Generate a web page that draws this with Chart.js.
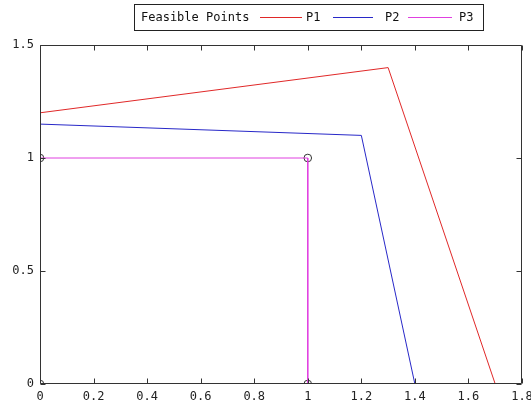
<!DOCTYPE html>
<html>
<head>
<meta charset="utf-8">
<script src="https://cdn.jsdelivr.net/npm/chart.js@4.4.1/dist/chart.umd.min.js"></script>
<style>
  html, body { margin: 0; padding: 0; background: #fff; }
  #wrap { width: 531px; height: 407px; position: relative; }
</style>
</head>
<body>
<div id="wrap"><canvas id="c" width="531" height="407"></canvas></div>
<script>
// ---- data ----
const seriesNames = ['Feasible Points', 'P1', 'P2', 'P3'];
const feasibleX = [0, 0, 1, 1];
const feasibleY = [0, 1, 1, 0];
const p1X = [0, 1.3, 1.7];
const p1Y = [1.2, 1.4, 0];
const p2X = [0, 1.2, 1.4];
const p2Y = [1.15, 1.1, 0];
const p3X = [0, 1, 1];
const p3Y = [1, 1, 0];
const xTicks = [0, 0.2, 0.4, 0.6, 0.8, 1, 1.2, 1.4, 1.6, 1.8];
const yTicks = [0, 0.5, 1, 1.5];

const colors = { pts: '#333333', p1: '#e02828', p2: '#2828c8', p3: '#e040e0' };
const toXY = (xs, ys) => xs.map((x, i) => ({ x: x, y: ys[i] }));
const fmt = v => String(+v.toFixed(2));
const FONT = '"DejaVu Sans Mono", "Liberation Mono", monospace';

const frameAndTicks = {
  id: 'frameAndTicks',
  afterDraw(chart) {
    const { ctx, chartArea: a, scales } = chart;
    ctx.save();
    ctx.strokeStyle = '#333';
    ctx.lineWidth = 1;
    ctx.beginPath();
    const L = Math.round(a.left) + 0.5, R = Math.round(a.right) - 0.5;
    const T = Math.round(a.top) + 0.5, B = Math.round(a.bottom) - 0.5;
    ctx.moveTo(L, T); ctx.lineTo(R, T); ctx.lineTo(R, B); ctx.lineTo(L, B); ctx.closePath();
    const tl = 5;
    xTicks.forEach(v => {
      const px = Math.round(scales.x.getPixelForValue(v)) + 0.5;
      ctx.moveTo(px, B); ctx.lineTo(px, B - tl);
      ctx.moveTo(px, T); ctx.lineTo(px, T + tl);
    });
    yTicks.forEach(v => {
      const py = Math.round(scales.y.getPixelForValue(v)) + 0.5;
      ctx.moveTo(L, py); ctx.lineTo(L + tl, py);
      ctx.moveTo(R, py); ctx.lineTo(R - tl, py);
    });
    ctx.stroke();
    ctx.restore();
  }
};

const boxLegend = {
  id: 'boxLegend',
  afterDraw(chart) {
    const ctx = chart.ctx;
    ctx.save();
    ctx.fillStyle = '#fff';
    ctx.fillRect(134, 4, 349, 26);
    ctx.strokeStyle = '#222';
    ctx.lineWidth = 1;
    ctx.strokeRect(134.5, 4.5, 349, 26);
    const cy = 17.5;
    ctx.font = '12px ' + FONT;
    ctx.textBaseline = 'middle';
    ctx.fillStyle = '#111';
    ctx.fillText(seriesNames[0], 141, cy);
    const items = [
      { c: colors.p1, x1: 260, x2: 302, tx: 306, label: seriesNames[1] },
      { c: colors.p2, x1: 333, x2: 373, tx: 385, label: seriesNames[2] },
      { c: colors.p3, x1: 408, x2: 452, tx: 459, label: seriesNames[3] }
    ];
    items.forEach(it => {
      ctx.beginPath();
      ctx.strokeStyle = it.c;
      ctx.moveTo(it.x1, cy); ctx.lineTo(it.x2, cy);
      ctx.stroke();
      ctx.fillStyle = '#111';
      ctx.fillText(it.label, it.tx, cy);
    });
    ctx.restore();
  }
};

new Chart(document.getElementById('c'), {
  type: 'scatter',
  data: {
    datasets: [
      { label: seriesNames[0], data: toXY(feasibleX, feasibleY), showLine: false,
        pointRadius: 3.8, pointBorderColor: colors.pts, pointBackgroundColor: 'rgba(0,0,0,0)',
        pointBorderWidth: 1, order: 10 },
      { label: seriesNames[1], data: toXY(p1X, p1Y), showLine: true, borderColor: colors.p1,
        borderWidth: 1, pointRadius: 0, tension: 0, order: 1 },
      { label: seriesNames[2], data: toXY(p2X, p2Y), showLine: true, borderColor: colors.p2,
        borderWidth: 1, pointRadius: 0, tension: 0, order: 1 },
      { label: seriesNames[3], data: toXY(p3X, p3Y), showLine: true, borderColor: colors.p3,
        borderWidth: 1, pointRadius: 0, tension: 0, order: 1 }
    ]
  },
  options: {
    responsive: false,
    animation: false,
    events: [],
    layout: { padding: { left: 0, right: 9, top: 45, bottom: 0 } },
    plugins: { legend: { display: false }, tooltip: { enabled: false } },
    scales: {
      x: {
        type: 'linear', min: 0, max: 1.8,
        afterBuildTicks: s => { s.ticks = xTicks.map(v => ({ value: v })); },
        afterFit: s => { s.height = 23; s.paddingLeft = 0; s.paddingRight = 0; },
        grid: { display: false, drawTicks: false },
        border: { display: false },
        ticks: { callback: v => fmt(v), color: '#222', padding: 6, maxRotation: 0, autoSkip: false,
                 font: { family: FONT, size: 12 } }
      },
      y: {
        type: 'linear', min: 0, max: 1.5,
        afterBuildTicks: s => { s.ticks = yTicks.map(v => ({ value: v })); },
        afterFit: s => { s.width = 40; s.paddingTop = 0; s.paddingBottom = 0; },
        grid: { display: false, drawTicks: false },
        border: { display: false },
        ticks: { callback: v => fmt(v), color: '#222', padding: 6, autoSkip: false,
                 font: { family: FONT, size: 12 } }
      }
    }
  },
  plugins: [frameAndTicks, boxLegend]
});
</script>
</body>
</html>
